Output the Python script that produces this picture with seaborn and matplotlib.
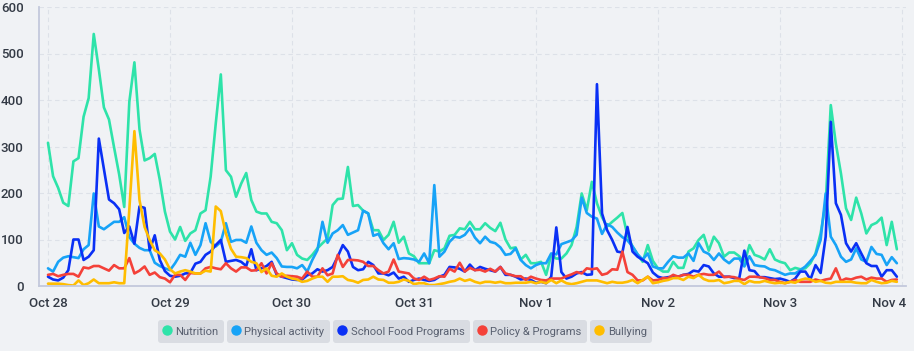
import pandas as pd
import numpy as np
import matplotlib
matplotlib.use('Agg')
import matplotlib.pyplot as plt
import matplotlib.dates as mdates
import matplotlib.transforms as mtransforms
from matplotlib.lines import Line2D
import seaborn as sns

# ---- data: hourly counts, Oct 28 00:00 .. Nov 3 23:00 ----
START = '2024-10-28 00:00'

nutrition = [
    308, 236, 211, 179, 172, 268, 275, 364, 404, 542, 466, 384, 358, 298, 240, 170, 396, 481, 337, 270, 275, 284, 228, 160,
    117, 100, 127, 97, 113, 120, 156, 163, 235, 349, 455, 249, 235, 192, 220, 243, 185, 160, 156, 156, 138, 135, 120, 77,
    92, 67, 59, 56, 67, 81, 92, 102, 174, 187, 188, 256, 172, 174, 162, 156, 120, 120, 99, 110, 138, 93, 106, 70,
    64, 49, 49, 49, 77, 74, 81, 108, 110, 124, 122, 138, 122, 122, 135, 125, 118, 136, 100, 81, 83, 57, 67, 49,
    49, 52, 24, 67, 59, 59, 70, 88, 127, 199, 163, 224, 178, 148, 128, 138, 147, 157, 108, 85, 68, 52, 88, 54,
    38, 31, 31, 52, 39, 39, 74, 81, 99, 110, 76, 106, 92, 63, 72, 72, 64, 49, 88, 67, 63, 57, 79, 57,
    52, 49, 34, 39, 36, 38, 49, 70, 113, 178, 389, 306, 242, 167, 142, 190, 156, 113, 131, 136, 147, 88, 138, 79,
]
physical_activity = [
    38, 31, 52, 61, 64, 62, 60, 79, 88, 199, 128, 122, 130, 138, 138, 148, 105, 91, 82, 77, 77, 50, 43, 38,
    34, 49, 67, 63, 93, 67, 88, 135, 95, 85, 95, 135, 95, 99, 99, 93, 128, 93, 77, 67, 72, 60, 42, 41,
    41, 38, 45, 31, 56, 77, 138, 93, 113, 120, 131, 110, 115, 120, 162, 156, 108, 112, 92, 79, 92, 58, 60, 59,
    57, 52, 70, 49, 217, 63, 74, 95, 106, 104, 110, 124, 104, 92, 106, 95, 92, 83, 67, 69, 81, 56, 45, 38,
    45, 49, 49, 70, 68, 90, 94, 98, 110, 190, 157, 149, 145, 112, 133, 127, 115, 105, 98, 85, 68, 57, 70, 42,
    38, 38, 52, 64, 61, 61, 70, 54, 92, 74, 69, 56, 70, 57, 49, 59, 59, 42, 64, 45, 43, 42, 36, 34,
    29, 24, 27, 27, 34, 42, 54, 67, 99, 199, 106, 88, 63, 52, 57, 81, 57, 52, 84, 69, 67, 45, 62, 49,
]
school_food = [
    20, 14, 12, 18, 34, 100, 100, 56, 63, 77, 317, 252, 186, 178, 165, 114, 128, 91, 171, 168, 77, 109, 56, 32,
    22, 20, 22, 27, 28, 48, 52, 67, 74, 88, 99, 52, 54, 56, 52, 43, 79, 34, 38, 43, 52, 24, 20, 17,
    14, 13, 14, 23, 27, 36, 31, 34, 41, 63, 88, 74, 41, 34, 36, 52, 45, 27, 27, 23, 29, 16, 20, 9,
    13, 16, 13, 11, 13, 20, 24, 41, 40, 37, 31, 46, 34, 41, 37, 34, 31, 41, 24, 24, 20, 14, 16, 13,
    7, 9, 6, 20, 126, 30, 16, 20, 27, 30, 24, 25, 434, 156, 120, 99, 74, 72, 127, 74, 63, 56, 49, 29,
    20, 17, 19, 20, 20, 24, 26, 33, 31, 45, 42, 27, 20, 20, 20, 17, 17, 76, 34, 32, 19, 19, 17, 15,
    16, 13, 9, 16, 31, 31, 14, 45, 28, 106, 353, 178, 153, 92, 74, 92, 70, 49, 43, 43, 20, 34, 34, 20,
]
policy = [
    24, 26, 21, 24, 26, 26, 20, 40, 38, 43, 43, 38, 33, 45, 38, 38, 60, 27, 33, 42, 24, 29, 19, 16,
    8, 24, 24, 13, 28, 27, 27, 38, 41, 38, 36, 49, 38, 31, 40, 40, 33, 34, 49, 27, 49, 27, 20, 22,
    21, 20, 16, 31, 20, 20, 38, 23, 27, 67, 41, 56, 56, 55, 52, 43, 43, 34, 27, 31, 57, 31, 29, 27,
    16, 13, 20, 13, 16, 21, 20, 37, 31, 50, 31, 39, 34, 35, 31, 37, 31, 41, 27, 24, 21, 21, 13, 20,
    16, 13, 12, 16, 16, 16, 21, 25, 30, 27, 38, 36, 38, 24, 27, 36, 35, 74, 30, 24, 12, 12, 20, 12,
    13, 17, 17, 24, 20, 24, 24, 20, 24, 26, 24, 24, 31, 19, 20, 19, 15, 13, 20, 20, 19, 17, 13, 13,
    9, 6, 9, 13, 9, 9, 9, 14, 11, 14, 16, 38, 11, 16, 14, 18, 20, 14, 18, 16, 16, 9, 13, 14,
]
bullying = [
    5, 5, 5, 4, 2, 1, 12, 2, 6, 14, 6, 6, 6, 8, 6, 6, 165, 333, 185, 127, 99, 77, 70, 57,
    36, 27, 31, 34, 31, 27, 27, 33, 31, 171, 161, 113, 80, 63, 62, 60, 52, 49, 30, 38, 22, 20, 27, 20,
    16, 14, 9, 11, 16, 20, 20, 9, 20, 20, 21, 13, 11, 7, 13, 14, 20, 14, 13, 7, 7, 9, 14, 11,
    4, 6, 6, 2, 2, 4, 6, 9, 11, 16, 11, 14, 9, 6, 9, 9, 7, 9, 6, 6, 7, 7, 7, 9,
    6, 9, 6, 13, 6, 12, 6, 4, 6, 9, 12, 12, 12, 9, 6, 9, 7, 7, 9, 13, 6, 13, 20, 6,
    8, 11, 13, 17, 17, 13, 20, 17, 24, 15, 11, 11, 13, 6, 8, 11, 11, 4, 11, 8, 8, 11, 8, 6,
    7, 6, 9, 7, 13, 16, 14, 9, 11, 7, 6, 9, 9, 9, 9, 7, 6, 6, 13, 9, 6, 7, 11, 9,
]

SERIES = ['Nutrition', 'Physical activity', 'School Food Programs', 'Policy & Programs', 'Bullying']
COLORS = ['#2ee3a9', '#17a3f7', '#0a30f5', '#f44139', '#ffbd00']
Y_TICKS = [0, 100, 200, 300, 400, 500, 600]

BG = '#f0f2f5'
W, H = 914, 351

# ---- long-form table ----
times = pd.date_range(START, periods=len(nutrition), freq='h')
wide = pd.DataFrame({
    'Nutrition': nutrition,
    'Physical activity': physical_activity,
    'School Food Programs': school_food,
    'Policy & Programs': policy,
    'Bullying': bullying,
}, index=times)
long = wide.reset_index(names='time').melt(id_vars='time', var_name='topic', value_name='count')

sns.set_style('white')
plt.rcParams['font.family'] = ['Roboto', 'DejaVu Sans']

fig = plt.figure(figsize=(W / 100, H / 100), dpi=100, facecolor=BG)
ax = fig.add_axes([39 / W, 1 - 286 / H, 867 / W, 279 / H])
ax.set_facecolor(BG)

sns.lineplot(data=long, x='time', y='count', hue='topic', hue_order=SERIES,
             palette=COLORS, linewidth=1.9, ax=ax, legend=False)

# axes
t0 = times[0]
ax.set_xlim(t0 - pd.Timedelta(hours=1.77), t0 + pd.Timedelta(hours=168.8))
ax.set_ylim(0, 600)
ax.set_yticks(Y_TICKS)
ax.xaxis.set_major_locator(mdates.DayLocator())
ax.xaxis.set_major_formatter(mdates.DateFormatter('%b %-d'))
ax.set_xlabel('')
ax.set_ylabel('')

ax.grid(True, color='#dde1e8', linestyle=(0, (4, 3)), linewidth=0.8)
ax.set_axisbelow(True)
for s in ['top', 'right']:
    ax.spines[s].set_visible(False)
for s in ['left', 'bottom']:
    ax.spines[s].set_color('#c3c9dc')
    ax.spines[s].set_linewidth(1.3)

ax.tick_params(axis='y', length=0, pad=11, labelsize=9.5, labelcolor='#333a45')
ax.tick_params(axis='x', length=4, width=1, color='#c3c9dc', pad=4, labelsize=9.5, labelcolor='#333a45')
for lab in ax.get_xticklabels() + ax.get_yticklabels():
    lab.set_fontweight('medium')

# keep last date label inside the figure
fig.canvas.draw()
xlabs = ax.get_xticklabels()
last = xlabs[-1]
last.set_horizontalalignment('right')
last.set_transform(last.get_transform() + mtransforms.ScaledTranslation(4 / 100, 0, fig.dpi_scale_trans))

# legend: one rounded chip per series, laid out side by side
legs = []
for name, col in zip(SERIES, COLORS):
    h = Line2D([], [], marker='o', linestyle='none', markersize=6.5,
               markerfacecolor=col, markeredgecolor=col)
    leg = fig.legend([h], [name], loc='center left', bbox_to_anchor=(0, 1 - 331.5 / H),
                     frameon=True, fancybox=True, handlelength=0.6, handletextpad=0.45,
                     handleheight=1.35, borderpad=0.5, borderaxespad=0, fontsize=8.1,
                     labelcolor='#596070')
    fr = leg.get_frame()
    fr.set_facecolor('#d9dce2')
    fr.set_edgecolor('none')
    fr.set_alpha(1)
    fr.set_boxstyle('round,pad=0,rounding_size=0.3')
    legs.append(leg)

fig.canvas.draw()
renderer = fig.canvas.get_renderer()
widths = [lg.get_window_extent(renderer).width for lg in legs]
gap = 3
total = sum(widths) + gap * (len(widths) - 1)
x = 405 - total / 2
for lg, w in zip(legs, widths):
    lg.set_bbox_to_anchor((x / W, 1 - 331.5 / H), transform=fig.transFigure)
    x += w + gap

fig.savefig('out.png', dpi=100, facecolor=BG)
